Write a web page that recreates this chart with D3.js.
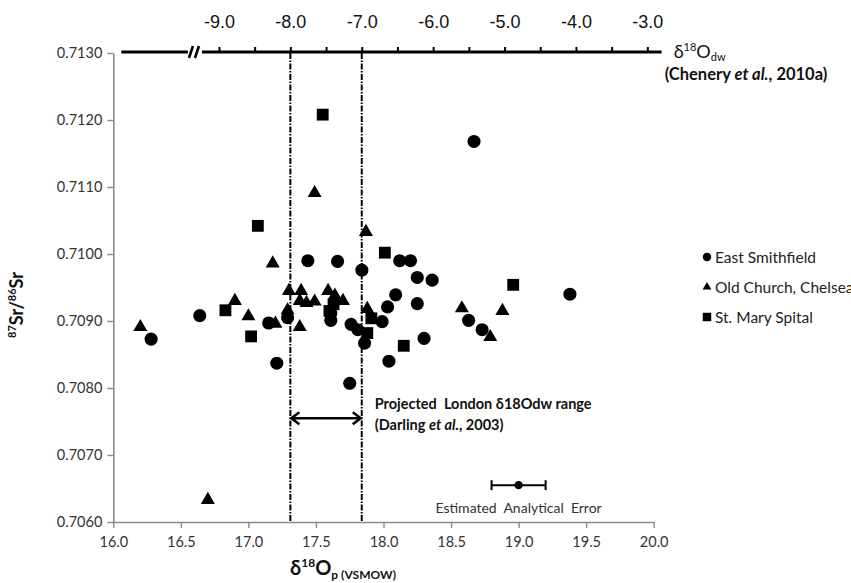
<!DOCTYPE html>
<html>
<head>
<meta charset="utf-8">
<script src="https://cdn.jsdelivr.net/npm/d3@7"></script>
<style>
  body { margin: 0; background: #fff; }
  svg { font-family: Lato, 'Open Sans', 'DejaVu Sans', sans-serif; }
</style>
</head>
<body>
<div id="chart"></div>
<script>
// [d18Op, 87Sr/86Sr]
const eastSmithfield = [
  [16.28, 0.70873], [16.64, 0.70908], [17.15, 0.70897], [17.21, 0.70837],
  [17.29, 0.70905], [17.44, 0.70990], [17.66, 0.70989], [17.84, 0.70976],
  [17.61, 0.70912], [17.61, 0.70901], [17.76, 0.70895], [17.81, 0.70887],
  [17.86, 0.70867], [17.75, 0.70807], [17.99, 0.70899], [18.03, 0.70921],
  [18.09, 0.70939], [18.12, 0.70990], [18.20, 0.70990], [18.25, 0.70965],
  [18.36, 0.70961], [18.25, 0.70926], [18.30, 0.70874], [18.04, 0.70840],
  [18.63, 0.70901], [18.73, 0.70887], [19.38, 0.70940], [18.67, 0.71168]
];
const oldChurch = [
  [16.20, 0.70891], [16.70, 0.70633], [16.90, 0.70930], [17.00, 0.70907],
  [17.18, 0.70986], [17.20, 0.70896], [17.30, 0.70945], [17.29, 0.70916],
  [17.39, 0.70945], [17.38, 0.70930], [17.43, 0.70927], [17.49, 0.70929],
  [17.38, 0.70891], [17.49, 0.71091], [17.59, 0.70945], [17.64, 0.70938],
  [17.70, 0.70930], [17.87, 0.71033], [17.88, 0.70918], [18.58, 0.70919],
  [18.79, 0.70876], [18.88, 0.70915]
];
const stMarySpital = [
  [16.83, 0.70916], [17.02, 0.70877], [17.07, 0.71042], [17.55, 0.71208],
  [17.63, 0.70925], [17.60, 0.70915], [17.88, 0.70882], [17.91, 0.70904],
  [18.01, 0.71002], [18.15, 0.70863], [18.96, 0.70954]
];

const xTicks = [16.0, 16.5, 17.0, 17.5, 18.0, 18.5, 19.0, 19.5, 20.0];
const yTicks = [0.7060, 0.7070, 0.7080, 0.7090, 0.7100, 0.7110, 0.7120, 0.7130];
const dwTicks = [-9.0, -8.5, -8.0, -7.5, -7.0, -6.5, -6.0, -5.5, -5.0, -4.5, -4.0, -3.5, -3.0];
// d18Odw values matched to d18Op on the bottom axis
const dwDomain = [-9.0, -3.0];
const dwAsOp = [16.782, 19.953];
const londonRange = [-8.0, -7.0];
const errorBar = { x: 19.0, err: 0.2, y: 0.70655 };

const W = 851, H = 583;
const svg = d3.select('#chart').append('svg').attr('width', W).attr('height', H);

const x = d3.scaleLinear().domain([16, 20]).range([113.3, 653.7]);
const y = d3.scaleLinear().domain([0.7060, 0.7130]).range([522, 53]);
const xDw = d3.scaleLinear().domain(dwDomain).range(dwAsOp.map(x));

const series = [
  { name: 'East Smithfield', type: d3.symbolCircle, size: 135, lsize: 56, data: eastSmithfield },
  { name: 'Old Church, Chelsea', type: d3.symbolTriangle, size: 85, lsize: 34, data: oldChurch },
  { name: 'St. Mary Spital', type: d3.symbolSquare, size: 140, lsize: 72, data: stMarySpital }
];

// y axis
const yAxis = svg.append('g').attr('transform', `translate(${x(16)},0)`)
  .call(d3.axisLeft(y).tickValues(yTicks).tickFormat(d3.format('.4f'))
    .tickSize(6).tickSizeOuter(0).tickPadding(5));
// x axis
const xAxis = svg.append('g').attr('transform', `translate(0,${y(0.7060)})`)
  .call(d3.axisBottom(x).tickValues(xTicks).tickFormat(d3.format('.1f'))
    .tickSize(6).tickSizeOuter(0).tickPadding(9));
[yAxis, xAxis].forEach(a => {
  a.select('.domain').attr('stroke', '#8a8a8a').attr('stroke-width', 1.6);
  a.selectAll('.tick line').attr('stroke', '#8a8a8a').attr('stroke-width', 1.4);
  a.selectAll('.tick text').attr('fill', '#333').attr('font-size', 14.5)
    .attr('font-family', 'Lato, sans-serif');
});

// top d18Odw axis
const yTop = y(0.7130) - 1;
const topAxis = svg.append('g').attr('transform', `translate(0,${yTop})`)
  .call(d3.axisTop(xDw).tickValues(dwTicks)
    .tickFormat(d => Number.isInteger(d) ? d.toFixed(1) : '')
    .tickSize(5).tickPadding(19));
topAxis.select('.domain').remove();
topAxis.selectAll('.tick line').attr('stroke', '#000').attr('stroke-width', 2);
topAxis.selectAll('.tick text').attr('fill', '#111').attr('font-size', 18)
  .attr('font-family', "'Liberation Sans Narrow', 'Arial Narrow', sans-serif");

const xBreak = xDw(-9.35);
const topLine = svg.append('g').attr('stroke', '#000').attr('stroke-width', 3).attr('fill', 'none');
topLine.append('line').attr('x1', x(16) + 8).attr('x2', xBreak - 6).attr('y1', yTop).attr('y2', yTop);
topLine.append('line').attr('x1', xBreak + 8).attr('x2', xDw(-2.8)).attr('y1', yTop).attr('y2', yTop);
[-3, 3].forEach(o => {
  topLine.append('line').attr('stroke-width', 2.6)
    .attr('x1', xBreak + o - 2).attr('y1', yTop + 6)
    .attr('x2', xBreak + o + 2).attr('y2', yTop - 6);
});

const dwLabel = svg.append('text').attr('x', xDw(-2.8) + 12).attr('y', yTop + 6)
  .attr('font-size', 18).attr('fill', '#111');
dwLabel.append('tspan').text('δ');
dwLabel.append('tspan').attr('font-size', 11).attr('dy', -7).text('18');
dwLabel.append('tspan').attr('dy', 7).text('O');
dwLabel.append('tspan').attr('font-size', 11).attr('dy', 3).text('dw');
const chen = svg.append('text').attr('x', xDw(-2.8) + 3).attr('y', yTop + 28)
  .attr('font-size', 16.5).attr('font-weight', 700).attr('fill', '#111');
chen.append('tspan').text('(Chenery ');
chen.append('tspan').attr('font-style', 'italic').text('et al.');
chen.append('tspan').text(', 2010a)');

// projected London range
svg.append('g').selectAll('line').data(londonRange).join('line')
  .attr('x1', d => xDw(d)).attr('x2', d => xDw(d))
  .attr('y1', yTop + 1).attr('y2', y(0.7060))
  .attr('stroke', '#000').attr('stroke-width', 2)
  .attr('stroke-dasharray', '6,1.5,1.5,1.5');

const yArrow = y(0.70755);
const xa = xDw(londonRange[0]), xb = xDw(londonRange[1]);
svg.append('path')
  .attr('d', `M${xa},${yArrow}H${xb}M${xa + 9},${yArrow - 6}L${xa + 1},${yArrow}L${xa + 9},${yArrow + 6}` +
    `M${xb - 9},${yArrow - 6}L${xb - 1},${yArrow}L${xb - 9},${yArrow + 6}`)
  .attr('fill', 'none').attr('stroke', '#000').attr('stroke-width', 2.5);

const ann = svg.append('g').attr('font-size', 14.5).attr('font-weight', 700).attr('fill', '#111');
ann.append('text').attr('x', xb + 13).attr('y', yArrow - 9)
  .attr('xml:space', 'preserve').style('white-space', 'pre')
  .text('Projected  London δ18Odw range');
const darl = ann.append('text').attr('x', xb + 13).attr('y', yArrow + 12);
darl.append('tspan').text('(Darling ');
darl.append('tspan').attr('font-style', 'italic').text('et al.');
darl.append('tspan').text(', 2003)');

// points
series.forEach(s => {
  svg.append('g').selectAll('path').data(s.data).join('path')
    .attr('transform', d => `translate(${x(d[0])},${y(d[1])})`)
    .attr('d', d3.symbol().type(s.type).size(s.size))
    .attr('fill', '#000');
});

// analytical error
const eb = svg.append('g').attr('stroke', '#000').attr('stroke-width', 2);
const ey = y(errorBar.y);
eb.append('line').attr('x1', x(errorBar.x - errorBar.err)).attr('x2', x(errorBar.x + errorBar.err))
  .attr('y1', ey).attr('y2', ey);
[errorBar.x - errorBar.err, errorBar.x + errorBar.err].forEach(v => {
  eb.append('line').attr('x1', x(v)).attr('x2', x(v)).attr('y1', ey - 5).attr('y2', ey + 5);
});
eb.append('circle').attr('cx', x(errorBar.x)).attr('cy', ey).attr('r', 3.2).attr('fill', '#000');
svg.append('text').attr('x', x(errorBar.x)).attr('y', ey + 28)
  .attr('text-anchor', 'middle').attr('font-size', 14).attr('fill', '#333')
  .attr('xml:space', 'preserve').style('white-space', 'pre')
  .text('Estimated  Analytical  Error');

// legend
const legend = svg.append('g').attr('transform', 'translate(707,257)');
series.forEach((s, i) => {
  const row = legend.append('g').attr('transform', `translate(0,${i * 30})`);
  row.append('path').attr('d', d3.symbol().type(s.type).size(s.lsize)).attr('fill', '#000');
  row.append('text').attr('x', 8).attr('y', 5.5).attr('font-size', 15.5).attr('fill', '#222').text(s.name);
});

// axis titles
const xt = svg.append('text').attr('x', 343).attr('y', 575).attr('text-anchor', 'middle')
  .attr('font-weight', 700).attr('fill', '#111').attr('font-size', 20);
xt.append('tspan').text('δ');
xt.append('tspan').attr('font-size', 12).attr('dy', -8).text('18');
xt.append('tspan').attr('dy', 8).text('O');
xt.append('tspan').attr('font-size', 12).attr('dy', 4).text('p (VSMOW)');

const yt = svg.append('text').attr('transform', 'translate(23,305) rotate(-90)')
  .attr('text-anchor', 'middle').attr('font-weight', 700).attr('fill', '#111').attr('font-size', 18);
yt.append('tspan').attr('font-size', 11).attr('dy', -7).text('87');
yt.append('tspan').attr('dy', 7).text('Sr/');
yt.append('tspan').attr('font-size', 11).attr('dy', -7).text('86');
yt.append('tspan').attr('dy', 7).text('Sr');
</script>
</body>
</html>
